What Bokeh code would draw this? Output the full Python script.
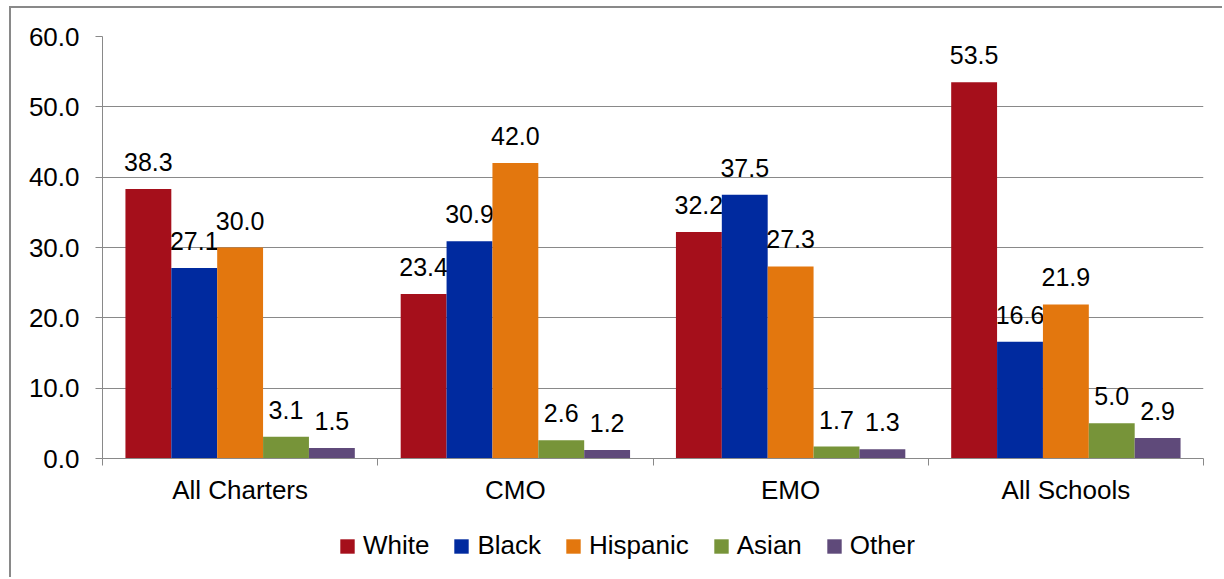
from bokeh.plotting import figure
from bokeh.layouts import column
from bokeh.models import (ColumnDataSource, FixedTicker, NumeralTickFormatter,
                          Legend, LegendItem, Range1d)
from bokeh.core.properties import value
from bokeh.embed import file_html
from bokeh.resources import INLINE

categories = ["All Charters", "CMO", "EMO", "All Schools"]
groups = ["White", "Black", "Hispanic", "Asian", "Other"]
white = [38.3, 23.4, 32.2, 53.5]
black = [27.1, 30.9, 37.5, 16.6]
hispanic = [30.0, 42.0, 27.3, 21.9]
asian = [3.1, 2.6, 1.7, 5.0]
other = [1.5, 1.2, 1.3, 2.9]
series = [white, black, hispanic, asian, other]
colors = ["#A50F1B", "#002A9F", "#E3770E", "#779439", "#5F4A7A"]

FONT = "Liberation Sans"
GRAY = "#898989"

p = figure(width=1213, height=505, output_backend="svg", toolbar_location=None,
           x_range=Range1d(0, len(categories)), y_range=Range1d(0, 60),
           min_border_left=91, min_border_right=21, min_border_top=28,
           min_border_bottom=55)
# chart frame: top and left rules
p.styles = {"margin-left": "9px", "margin-top": "6px",
            "border-top": f"2px solid {GRAY}", "border-left": f"2px solid {GRAY}"}
p.outline_line_color = None
p.xgrid.grid_line_color = None
p.ygrid.grid_line_color = GRAY
p.ygrid.grid_line_width = 1

# bars: five per category, each one sixth of the category width
bar_w = 1 / (len(groups) + 1)
for j, (name, vals, col) in enumerate(zip(groups, series, colors)):
    xs = [i + (j + 1) * bar_w for i in range(len(categories))]
    src = ColumnDataSource(dict(x=xs, top=vals,
                                label=[f"{v:.1f}" for v in vals]))
    p.vbar(x="x", top="top", width=bar_w, source=src, fill_color=col,
           line_color=None)
    p.text(x="x", y="top", text="label", source=src, text_align="center",
           text_baseline="alphabetic", y_offset=-27, text_font=value(FONT),
           text_font_size="25px", text_color="black")

# y axis
p.yaxis.ticker = FixedTicker(ticks=list(range(0, 61, 10)))
p.yaxis.formatter = NumeralTickFormatter(format="0.0")
p.yaxis.axis_line_color = GRAY
p.yaxis.major_tick_line_color = GRAY
p.yaxis.major_tick_out = 7
p.yaxis.major_tick_in = 0
p.yaxis.minor_tick_line_color = None
p.yaxis.major_label_text_font = FONT
p.yaxis.major_label_text_font_size = "26px"
p.yaxis.major_label_text_color = "black"
p.yaxis.major_label_standoff = 16

# x axis: labels at category centres, tick marks at category boundaries
centres = [i + 0.5 for i in range(len(categories))]
p.xaxis.ticker = FixedTicker(ticks=centres,
                             minor_ticks=list(range(len(categories) + 1)))
p.xaxis.major_label_overrides = {c: lab for c, lab in zip(centres, categories)}
p.xaxis.axis_line_color = GRAY
p.xaxis.major_tick_line_color = None
p.xaxis.major_tick_out = 7
p.xaxis.major_tick_in = 0
p.xaxis.minor_tick_line_color = GRAY
p.xaxis.minor_tick_out = 7
p.xaxis.minor_tick_in = 0
p.xaxis.major_label_text_font = FONT
p.xaxis.major_label_text_font_size = "26px"
p.xaxis.major_label_text_color = "black"
p.xaxis.major_label_standoff = 9

# legend strip underneath the chart; its key swatches sit outside the visible range
lf = figure(width=1213, height=66, output_backend="svg", toolbar_location=None,
            x_range=Range1d(0, 1), y_range=Range1d(0, 1),
            min_border_left=91, min_border_right=21,
            min_border_top=0, min_border_bottom=0)
lf.styles = {"margin-left": "9px", "border-left": f"2px solid {GRAY}"}
lf.axis.visible = False
lf.grid.visible = False
lf.outline_line_color = None
keys = [lf.vbar(x=[-5], top=[0], width=0.1, fill_color=col, line_color=None)
        for col in colors]
legend = Legend(items=[LegendItem(label=g, renderers=[r]) for g, r in zip(groups, keys)],
                orientation="horizontal", location=(236, 16),
                glyph_width=18, glyph_height=18, label_standoff=7, spacing=23,
                padding=0, margin=0, border_line_color=None,
                background_fill_alpha=0, label_text_font=FONT,
                label_text_font_size="26px", label_text_color="black")
lf.add_layout(legend)

layout = column(p, lf, spacing=0)
open("out.html", "w").write(file_html(layout, INLINE))
